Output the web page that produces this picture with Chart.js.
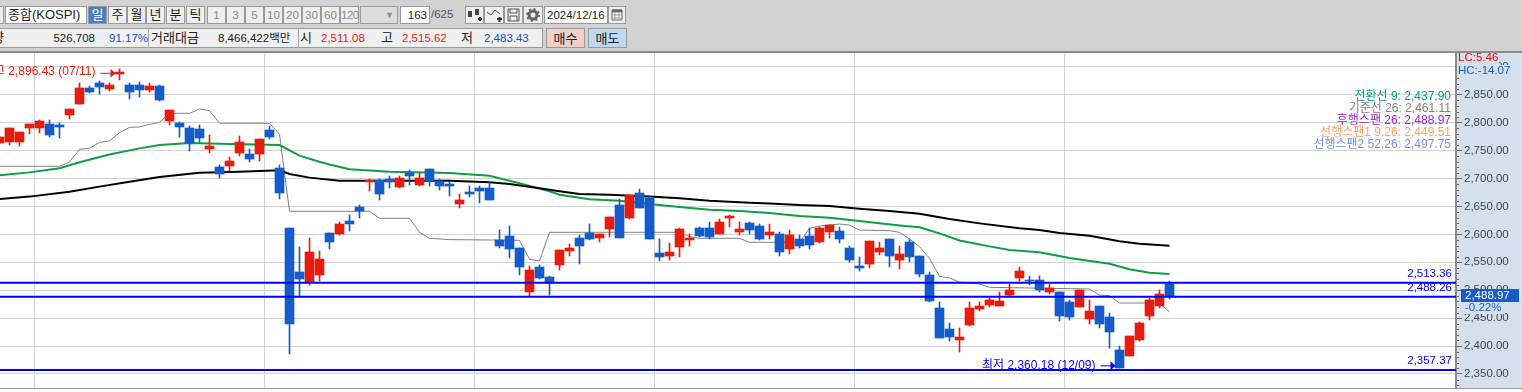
<!DOCTYPE html>
<html lang="ko">
<head>
<meta charset="utf-8">
<title>KOSPI</title>
<script src="https://cdn.jsdelivr.net/npm/chart.js@4"></script>
<style>
  html, body { margin: 0; padding: 0; background: #fff; overflow: hidden; }
  body { width: 1522px; height: 392px; position: relative; font: 11.5px "Liberation Sans", "Noto Sans CJK KR", sans-serif; color: #222; }
  #bar { position: absolute; left: 0; top: 0; width: 1522px; height: 51px; background: #d2d2d2; border-bottom: 2px solid #8c8c8c; }
  #bar div { position: absolute; box-sizing: border-box; white-space: nowrap; }
  .r1 { top: 6px; height: 18px; line-height: 16px; }
  .r2 { top: 28px; height: 20px; line-height: 20px; }
  .btn { background: #efefef; border: 1px solid #9a9a9a; text-align: center; }
  .kr { font-size: 13px; }
  .off { color: #8a8a8a; }
  .box { background: #fff; border: 1px solid #9a9a9a; padding: 0 2px; }
  .blue { color: #1450c8; }
  .red { color: #e81c0c; }
  #bar svg { display: block; margin: 1px auto; }
  canvas { position: absolute; left: 0; top: 53px; }
  #foot { position: absolute; left: 0; top: 388px; width: 1522px; height: 1px; background: #9a9a9a; }
</style>
</head>
<body>
<div id="bar">
  <div class="r1 btn" style="left:-2px;width:6px"></div>
  <div class="r1 box kr" style="left:5px;width:82px">종합(KOSPI)</div>
  <div class="r1 btn kr" style="left:88px;width:19px;background:#4a7fc7;color:#fff">일</div>
  <div class="r1 btn kr" style="left:108px;width:19px">주</div>
  <div class="r1 btn kr" style="left:127px;width:19px">월</div>
  <div class="r1 btn kr" style="left:146px;width:19px">년</div>
  <div class="r1 btn kr" style="left:166px;width:19px">분</div>
  <div class="r1 btn kr" style="left:186px;width:19px">틱</div>
  <div class="r1 btn off" style="left:207px;width:19px">1</div>
  <div class="r1 btn off" style="left:226px;width:19px">3</div>
  <div class="r1 btn off" style="left:245px;width:19px">5</div>
  <div class="r1 btn off" style="left:264px;width:19px">10</div>
  <div class="r1 btn off" style="left:283px;width:19px">20</div>
  <div class="r1 btn off" style="left:302px;width:19px">30</div>
  <div class="r1 btn off" style="left:321px;width:19px">60</div>
  <div class="r1 btn off" style="left:340px;width:19px;letter-spacing:-.5px">120</div>
  <div class="r1 btn off" style="left:360px;width:38px;background:#dcdcdc;text-align:right;padding-right:3px;font-size:9px">▼</div>
  <div class="r1 box" style="left:400px;width:30px;text-align:right">163</div>
  <div class="r1" style="left:431px;color:#555">/625</div>
  <div class="r1 btn" style="left:465px;width:19px"><svg width="15" height="14"><path d="M1 3h4v6H1zM8 1h4v6H8z" fill="#444"/><path d="M11 11h4M13 9v4" stroke="#333" stroke-width="2"/></svg></div>
  <div class="r1 btn" style="left:484px;width:20px"><svg width="15" height="14"><path d="M0 4l4 3 4-5 5 4" fill="none" stroke="#555"/><path d="M10 11h5M12.500 9v5" stroke="#333" stroke-width="2"/></svg></div>
  <div class="r1 btn" style="left:504px;width:19px"><svg width="13" height="14"><path d="M1 1h11v12H1zM3 1v4h7V1M3 13V8h7v5" fill="none" stroke="#555"/></svg></div>
  <div class="r1 btn" style="left:523px;width:20px"><svg width="14" height="14"><circle cx="7" cy="7" r="4" fill="none" stroke="#666" stroke-width="3"/><circle cx="7" cy="7" r="6" fill="none" stroke="#666" stroke-dasharray="2 2.700" stroke-width="2"/></svg></div>
  <div class="r1 box" style="left:544px;width:64px">2024/12/16</div>
  <div class="r1 btn" style="left:608px;width:18px"><svg width="12" height="14"><path d="M1 2h10v10H1z" fill="#fff" stroke="#666"/><path d="M1 3h10" stroke="#666" stroke-width="3"/><path d="M1 7h10M1 10h10M4 5v7M8 5v7" stroke="#999"/></svg></div>

  <div class="r2" style="left:0;width:543px;background:#f0f0f0;border:1px solid #9a9a9a;border-left:0"></div>
  <div class="r2 kr" style="left:-8px;width:11px">량</div>
  <div class="r2" style="left:40px;width:55px;text-align:right">526,708</div>
  <div class="r2 blue" style="left:109px">91.17%</div>
  <div class="r2" style="left:148px;width:1px;background:#aaa"></div>
  <div class="r2 kr" style="left:151px">거래대금</div>
  <div class="r2" style="left:218px">8,466,422백만</div>
  <div class="r2" style="left:298px;width:1px;background:#aaa"></div>
  <div class="r2 kr" style="left:300px">시</div>
  <div class="r2 red" style="left:321px">2,511.08</div>
  <div class="r2 kr" style="left:381px">고</div>
  <div class="r2 red" style="left:402px">2,515.62</div>
  <div class="r2 kr" style="left:461px">저</div>
  <div class="r2 blue" style="left:484px">2,483.43</div>
  <div class="r2 btn kr" style="left:546px;width:39px;background:#f3cfca">매수</div>
  <div class="r2 btn kr" style="left:588px;width:39px;background:#bfd8ef">매도</div>
</div>
<canvas id="chart" width="1522" height="335"></canvas>
<div id="foot"></div>
<script>
// === DADOS ===
// first candle is cut by the left edge, so sessions start at -1
const opens = [
  2764.2, 2765.4, 2766, 2790.5, 2790.5, 2797.7, 2795.9, 2813.8, 2833.5, 2862.1,
  2871.1, 2860.3, 2887.2, 2867.5, 2867.5, 2858.5, 2865.7, 2803, 2799.5, 2790.5,
  2788.7, 2752.9, 2720.7, 2722.5, 2745.7, 2743.9, 2743.9, 2786.9, 2718.9, 2611.5,
  2532.7, 2514.8, 2527.3, 2602.5, 2600.7, 2624, 2649, 2694.4, 2697.4, 2699.2,
  2684.9, 2709.9, 2688.4, 2717.1, 2695.6, 2690.2, 2654.4, 2675.9, 2683.1, 2683.1,
  2590, 2597.1, 2575.6, 2496.9, 2541.6, 2523.7, 2545.2, 2570.3, 2593.6, 2602.5,
  2593.6, 2609.7, 2652.6, 2629.4, 2674.1, 2665.2, 2566.7, 2561.3, 2577.4, 2590,
  2611.5, 2611.5, 2600.7, 2629.4, 2604.3, 2620.4, 2615, 2598.8, 2600.6, 2573.8,
  2591.7, 2597, 2586.3, 2604.2, 2606, 2575.6, 2543.3, 2546.9, 2568.4, 2591.7,
  2554.1, 2586.3, 2561.2, 2527.2, 2468.1, 2430.5, 2410.8, 2437.7, 2466.4, 2473.5,
  2471.7, 2491.4, 2521.9, 2518.3, 2518.3, 2496.8, 2496.8, 2478.9, 2469.9, 2448.5,
  2471.7, 2452, 2393, 2382.2, 2410.8, 2453.8, 2471.7, 2511.08
];
const closes = [
  2775, 2790.5, 2783.3, 2797.7, 2803, 2778, 2792.3, 2824.5, 2862.1, 2855,
  2863.9, 2867.5, 2890.8, 2855, 2858.5, 2865.7, 2840.6, 2822.7, 2792.3, 2763.6,
  2772.6, 2758.3, 2708.1, 2731.4, 2765.4, 2735, 2770.8, 2774.4, 2674.1, 2439.6,
  2520.1, 2568.5, 2555.9, 2586.4, 2618.6, 2618.6, 2641.3, 2697.4, 2672.3, 2693.8,
  2701, 2704.6, 2701, 2695.6, 2686.6, 2686.6, 2661.6, 2672.3, 2677.7, 2661.6,
  2579.2, 2573.9, 2541.6, 2536.3, 2521.9, 2513, 2572.1, 2575.7, 2579.2, 2591.8,
  2600.7, 2631.2, 2593.6, 2670.5, 2647.3, 2591.8, 2559.5, 2568.5, 2609.7, 2593.6,
  2597.1, 2595.3, 2622.2, 2632.9, 2609.7, 2607.9, 2591.8, 2604.2, 2568.4, 2598.8,
  2579.1, 2580.9, 2611.4, 2616.7, 2591.7, 2554.1, 2539.8, 2588.1, 2575.6, 2561.2,
  2564.8, 2559.4, 2529, 2480.7, 2414.4, 2416.2, 2416.2, 2468.1, 2471.7, 2482.5,
  2480.7, 2500.4, 2534.4, 2516.5, 2500.4, 2504, 2453.8, 2452, 2500.4, 2462.8,
  2439.5, 2425.2, 2361, 2418, 2441.3, 2482.5, 2493.2, 2488.97
];
const highs = [
  2776, 2790.5, 2783.3, 2797.7, 2804.8, 2804.8, 2799.5, 2824.5, 2871.1, 2865.7,
  2874.7, 2871.1, 2896.43, 2871.1, 2872.9, 2871.1, 2867.5, 2822.7, 2801.2, 2794.1,
  2795.9, 2778, 2724.3, 2738.6, 2776.2, 2752.9, 2770.8, 2794.1, 2724.3, 2611.5,
  2577.4, 2593.5, 2570.3, 2602.5, 2622.2, 2634.7, 2652.6, 2699.2, 2699.2, 2704.6,
  2704.6, 2715.3, 2711.7, 2717.1, 2699.2, 2693.8, 2672.3, 2686.6, 2686.6, 2693.8,
  2607.9, 2615, 2575.6, 2543.4, 2545.2, 2525.5, 2572.1, 2582.8, 2598.9, 2618.6,
  2600.7, 2631.2, 2663.4, 2670.5, 2681.3, 2668.8, 2591.8, 2584.6, 2611.5, 2600.7,
  2613.3, 2622.2, 2627.6, 2634.7, 2622.2, 2622.2, 2618.6, 2618.5, 2604.2, 2607.8,
  2598.8, 2611.4, 2613.2, 2616.7, 2613.2, 2579.1, 2559.4, 2588.1, 2586.3, 2591.7,
  2579.1, 2591.7, 2561.2, 2532.6, 2478.9, 2441.3, 2432.3, 2478.9, 2478.9, 2486,
  2496.8, 2511.1, 2541.6, 2525.4, 2525.4, 2511.1, 2496.8, 2482.5, 2500.4, 2482.5,
  2471.7, 2459.2, 2400.1, 2418, 2443.1, 2486, 2500.4, 2515.62
];
const lows = [
  2762, 2760.1, 2758.9, 2779.8, 2781.5, 2774.4, 2772.6, 2806.6, 2833.5, 2853.2,
  2851.4, 2856.7, 2876.4, 2842.4, 2846, 2855, 2838.8, 2795.9, 2774.4, 2749.3,
  2763.6, 2745.7, 2701, 2713.5, 2740.4, 2729.6, 2731.4, 2770.8, 2663.4, 2385.9,
  2487.9, 2509.4, 2516.6, 2573.9, 2598.9, 2606.1, 2629.4, 2677.7, 2661.6, 2683.1,
  2683.1, 2688.4, 2686.6, 2686.6, 2679.5, 2668.7, 2647.3, 2667, 2656.2, 2661.6,
  2575.6, 2557.7, 2527.3, 2489.7, 2520.1, 2491.5, 2536.3, 2561.3, 2547, 2590,
  2586.4, 2595.3, 2593.6, 2627.6, 2647.3, 2591.8, 2552.4, 2554.2, 2559.5, 2579.2,
  2595.3, 2591.8, 2600.7, 2613.3, 2598.9, 2600.7, 2590, 2591.7, 2561.2, 2564.8,
  2575.6, 2573.8, 2584.5, 2593.5, 2584.5, 2550.5, 2534.4, 2539.8, 2563, 2541.5,
  2538, 2550.5, 2523.6, 2478.9, 2414.4, 2409.1, 2389.4, 2435.9, 2462.8, 2470,
  2471.7, 2489.6, 2516.5, 2509.3, 2496.8, 2493.2, 2444.9, 2446.7, 2469.9, 2439.5,
  2432.3, 2396.5, 2360.18, 2382.2, 2409.1, 2446.7, 2468.1, 2483.43
];

// moving lines, read at the sessions where they bend
const kijunX = [-1, 5, 6, 7, 8, 9, 10, 11, 12, 13, 14, 15, 16, 18, 19, 20, 21, 26, 27, 28, 36, 37, 40, 41, 42, 44, 51, 52, 53, 54, 67, 68, 69, 73, 74, 79, 80, 81, 83, 84, 85, 88, 89, 90, 91, 92, 93, 94, 95, 97, 98, 108, 109, 110, 111, 115, 116];
const kijunY = [2721.9, 2721.9, 2729.6, 2752.3, 2754.1, 2764.8, 2767.2, 2782.1, 2791.7, 2792.3, 2797, 2800.6, 2816.8, 2816.8, 2824.5, 2821.5, 2798.9, 2798.9, 2779.2, 2641.3, 2641.3, 2628.8, 2628.8, 2603.7, 2593, 2590.6, 2589.4, 2555.4, 2552.4, 2603.7, 2603.7, 2595.9, 2593, 2593, 2585.8, 2585.7, 2610.8, 2615, 2618.5, 2616.7, 2607.8, 2606.6, 2603.6, 2591.7, 2578, 2557, 2524.8, 2521.8, 2514.7, 2511.1, 2505.2, 2502.2, 2491.4, 2490.2, 2477.1, 2477.1, 2461.11];
const greenX = [-1, 2, 5, 7, 10, 13, 15, 18, 22, 27, 29, 31, 32, 34, 38, 44, 48, 51, 54, 55, 58, 61, 64, 67, 70, 73, 76, 79, 82, 85, 89, 91, 93, 95, 98, 100, 103, 106, 110, 112, 114, 116];
const greenY = [2705.8, 2711, 2718.3, 2729, 2743, 2754, 2760, 2763.6, 2762, 2760, 2741, 2730, 2725, 2716.5, 2712.3, 2710, 2705, 2691.4, 2677, 2671, 2662.8, 2660.4, 2654.4, 2649, 2644.3, 2641.9, 2638.2, 2632.9, 2629.9, 2623.9, 2616.1, 2612.6, 2601.8, 2589, 2578.5, 2572, 2567.8, 2557.7, 2547.5, 2537.4, 2531.4, 2529];
const blackX = [-1, 2, 6, 9, 12, 15, 19, 23, 27, 28, 30, 33, 44, 48, 50, 53, 55, 57, 60, 64, 67, 70, 74, 76, 79, 82, 85, 88, 91, 94, 97, 101, 103, 105, 108, 111, 113, 116];
const blackY = [2663.4, 2667.6, 2676.5, 2685.5, 2694.4, 2702.8, 2710.5, 2712.3, 2714.7, 2708, 2701.6, 2696.2, 2696.2, 2693.2, 2690.2, 2682.5, 2677.1, 2672.3, 2671.1, 2667.6, 2664.6, 2660.4, 2656.8, 2655.5, 2652.5, 2650.8, 2646, 2641.8, 2637, 2627.5, 2619.7, 2610.8, 2607.8, 2602.4, 2597.7, 2587.5, 2583.3, 2579.8];

// horizontal blue lines and their labels
const priceLevels = [2513.36, 2488.26, 2357.37];

// month changes (vertical grid) and axis ticks
const monthLines = [2.5, 25.5, 46.5, 64.5, 84.5, 105.5];
const yTicks = [2350, 2400, 2450, 2500, 2550, 2600, 2650, 2700, 2750, 2800, 2850, 2900];

// legend text top right
const legendLines = [
  ['전환선 9: 2,437.90', '#009f7f'],
  ['기준선 26: 2,461.11', '#808080'],
  ['후행스팬 26: 2,488.97', '#a020e0'],
  ['선행스팬1 9,26: 2,449.51', '#ffa060'],
  ['선행스팬2 52,26: 2,497.75', '#6f8fee']
];

const lastClose = 2488.97;
const highPoint = { session: 11, value: 2896.43, text: '최고 2,896.43 (07/11)' };
const lowPoint = { session: 111, value: 2360.18, text: '최저 2,360.18 (12/09)' };

// === CORES E FONTE ===
const RED = '#e81c0c';
const BLUE = '#145ccc';
const LINE_BLUE = '#0000ff';
const PANEL = '#d5e0ee';
const FONT_FAMILY = '"Liberation Sans", "Noto Sans CJK KR", sans-serif';
const FONT = '11.5px ' + FONT_FAMILY;
const FONT_BIG = '12px ' + FONT_FAMILY;

// axis limits: x so candles fall every 10px, y so 50 points take about 28px
const xMin = -0.95, xMax = 144.65;
const yMin = 2324.93, yMax = 2924.75;

const sessions = opens.map((_, i) => i - 1);
const candleColors = opens.map((o, i) => closes[i] >= o ? RED : BLUE);
const zip = (xs, ys) => xs.map((x, i) => ({ x: x, y: ys[i] }));

const datasets = [];
// lines on top: lower order is drawn last
priceLevels.forEach(v => {
  datasets.push({
    type: 'line', order: 0, borderColor: LINE_BLUE, borderWidth: 2, pointRadius: 0,
    data: [{ x: xMin, y: v }, { x: xMax, y: v }]
  });
});
datasets.push({
  type: 'bar', order: 1, grouped: false, barThickness: 9, backgroundColor: candleColors,
  data: sessions.map((x, i) => ({ x: x, y: [opens[i], closes[i]] }))
});
datasets.push({
  type: 'bar', order: 2, grouped: false, barThickness: 1, backgroundColor: candleColors,
  data: sessions.map((x, i) => ({ x: x, y: [lows[i], highs[i]] }))
});
datasets.push({ type: 'line', order: 3, borderColor: '#000000', borderWidth: 2, pointRadius: 0, data: zip(blackX, blackY) });
datasets.push({ type: 'line', order: 4, borderColor: '#0f9d46', borderWidth: 2, pointRadius: 0, data: zip(greenX, greenY) });
datasets.push({ type: 'line', order: 5, borderColor: '#808080', borderWidth: 1, pointRadius: 0, data: zip(kijunX, kijunY) });

// === PLUGIN ===
// keeps candle edges on whole pixels
const crispBars = {
  id: 'crispBars',
  afterDatasetsUpdate(chart) {
    chart.data.datasets.forEach((ds, i) => {
      if (ds.type !== 'bar') return;
      chart.getDatasetMeta(i).data.forEach(el => {
        el.y = Math.round(el.y);
        el.base = Math.round(el.base);
      });
    });
  }
};

const panelBack = {
  id: 'panelBack',
  beforeDraw(chart) {
    const { ctx, chartArea, width, height } = chart;
    ctx.save();
    ctx.fillStyle = PANEL;
    ctx.fillRect(chartArea.right, 0, width - chartArea.right, height);
    ctx.restore();
  }
};

function arrow(ctx, x1, x2, y, color) {
  ctx.strokeStyle = color;
  ctx.fillStyle = color;
  ctx.lineWidth = 1;
  ctx.beginPath();
  ctx.moveTo(x1, y + 0.5);
  ctx.lineTo(x2, y + 0.5);
  ctx.stroke();
  ctx.beginPath();
  ctx.moveTo(x2 - 5, y - 4);
  ctx.lineTo(x2, y + 0.5);
  ctx.lineTo(x2 - 5, y + 5);
  ctx.fill();
}

const chartTexts = {
  id: 'chartTexts',
  afterDraw(chart) {
    const { ctx, chartArea } = chart;
    const x = chart.scales.x, y = chart.scales.y;
    const right = chartArea.right;
    ctx.save();
    ctx.font = FONT;
    ctx.textBaseline = 'middle';

    // short ticks each 10 points
    ctx.fillStyle = '#666';
    for (let v = 2330; v <= 2920; v += 10) {
      if (v % 50 !== 0) ctx.fillRect(right + 1, Math.round(y.getPixelForValue(v)), 2, 1);
    }

    // legend
    ctx.textAlign = 'right';
    ctx.font = FONT_BIG;
    legendLines.forEach((l, i) => {
      ctx.fillStyle = l[1];
      ctx.fillText(l[0], right - 5, 44 + i * 12);
    });

    // high and low notes
    const hx = x.getPixelForValue(highPoint.session), hy = y.getPixelForValue(highPoint.value);
    ctx.fillStyle = RED;
    ctx.fillText(highPoint.text, hx - 24, hy + 3);
    arrow(ctx, hx - 19, hx - 4, hy + 4, RED);
    const lx = x.getPixelForValue(lowPoint.session), ly = y.getPixelForValue(lowPoint.value);
    ctx.fillStyle = LINE_BLUE;
    ctx.fillText(lowPoint.text, lx - 24, ly - 3);
    arrow(ctx, lx - 19, lx - 4, ly - 3, LINE_BLUE);

    // level labels sit above their line
    ctx.font = FONT;
    ctx.fillStyle = LINE_BLUE;
    priceLevels.forEach(v => {
      ctx.fillText(v.toLocaleString('en-US', { minimumFractionDigits: 2 }), right - 4, y.getPixelForValue(v) - 9);
    });

    // last price box
    ctx.textAlign = 'left';
    const py = Math.round(y.getPixelForValue(lastClose));
    ctx.fillStyle = BLUE;
    ctx.fillRect(right + 5, py - 7, 58, 13);
    ctx.fillStyle = '#fff';
    ctx.fillText('2,488.97', right + 9, py);
    ctx.fillStyle = PANEL;
    ctx.fillRect(right + 5, py + 6, 44, 12);
    ctx.fillStyle = BLUE;
    ctx.fillText('-0.22%', right + 9, py + 12);

    // LC / HC over the top tick
    ctx.fillStyle = PANEL;
    ctx.fillRect(right + 1, 0, 42, 12);
    ctx.fillRect(right + 1, 12, 56, 12);
    ctx.fillStyle = '#ff0000';
    ctx.fillText('LC:5.46', right + 2, 5);
    ctx.fillStyle = BLUE;
    ctx.fillText('HC:-14.07', right + 2, 18);
    ctx.restore();
  }
};

// === GRÁFICO ===
new Chart(document.getElementById('chart').getContext('2d'), {
  type: 'bar',
  data: { datasets: datasets },
  plugins: [panelBack, crispBars, chartTexts],
  options: {
    responsive: false,
    animation: false,
    events: [],
    layout: { padding: 0 },
    elements: { line: { tension: 0 } },
    plugins: { legend: { display: false }, tooltip: { enabled: false }, title: { display: false } },
    scales: {
      x: {
        type: 'linear',
        offset: false,
        min: xMin,
        max: xMax,
        afterBuildTicks: axis => { axis.ticks = monthLines.map(v => ({ value: v })); },
        afterFit: axis => { axis.height = 0; axis.paddingLeft = 0; axis.paddingRight = 0; },
        ticks: { display: false, autoSkip: false },
        border: { display: false },
        grid: { color: '#d3d3d3', drawTicks: false, offset: false }
      },
      y: {
        position: 'right',
        min: yMin,
        max: yMax,
        afterBuildTicks: axis => { axis.ticks = yTicks.map(v => ({ value: v })); },
        afterFit: axis => { axis.width = 66; axis.paddingTop = 0; axis.paddingBottom = 0; },
        ticks: {
          autoSkip: false,
          padding: 2,
          color: '#444',
          font: { family: FONT_FAMILY, size: 11.5 },
          callback: v => v.toLocaleString('en-US', { minimumFractionDigits: 2 })
        },
        border: { color: '#8c8c8c', width: 2 },
        grid: { color: '#d3d3d3', tickColor: '#666', tickLength: 6 }
      }
    }
  }
});
</script>
</body>
</html>
